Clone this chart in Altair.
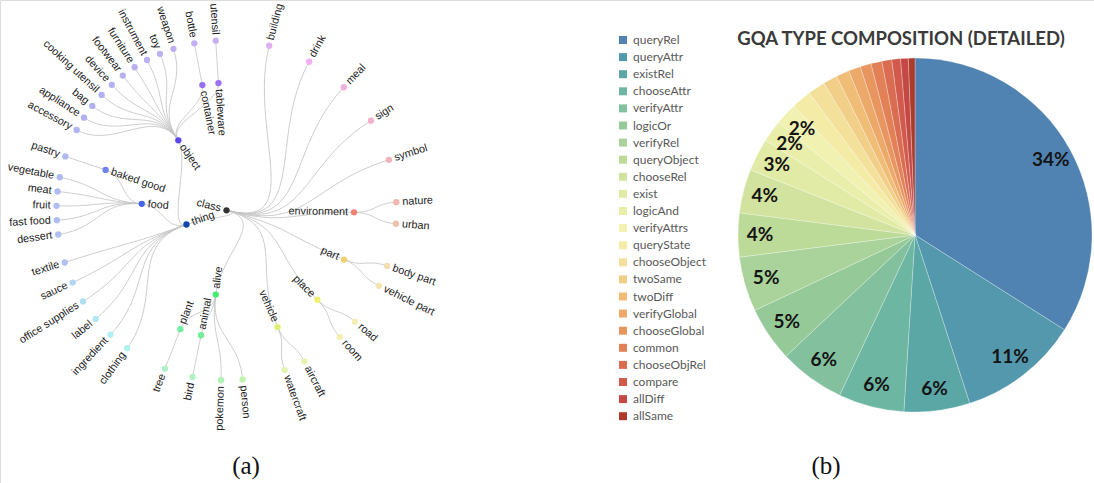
import math
import colorsys

import altair as alt
import pandas as pd

# ---------------------------------------------------------------
# (a) type taxonomy -- children of every node, listed clockwise
# ---------------------------------------------------------------
ROOT = "class"
CLASS_KIDS = ["building", "drink", "meal", "sign", "symbol", "environment",
              "part", "place", "vehicle", "alive", "thing"]
ENVIRONMENT_KIDS = ["nature", "urban"]
PART_KIDS = ["body part", "vehicle part"]
PLACE_KIDS = ["road", "room"]
VEHICLE_KIDS = ["aircraft", "watercraft"]
ALIVE_KIDS = ["person", "pokemon", "animal", "plant"]
ANIMAL_KIDS = ["bird"]
PLANT_KIDS = ["tree"]
THING_KIDS = ["clothing", "ingredient", "label", "office supplies", "sauce",
              "textile", "food", "object"]
FOOD_KIDS = ["dessert", "fast food", "fruit", "meat", "vegetable", "baked good"]
BAKED_GOOD_KIDS = ["pastry"]
OBJECT_KIDS = ["accessory", "appliance", "bag", "cooking utensil", "device",
               "footwear", "furniture", "instrument", "toy", "weapon",
               "container", "tableware"]
CONTAINER_KIDS = ["bottle"]
TABLEWARE_KIDS = ["utensil"]

# ---------------------------------------------------------------
# (b) GQA question-type composition, in percent
# ---------------------------------------------------------------
PIE_TYPES = ["queryRel", "queryAttr", "existRel", "chooseAttr", "verifyAttr",
             "logicOr", "verifyRel", "queryObject", "chooseRel", "exist",
             "logicAnd", "verifyAttrs", "queryState", "chooseObject", "twoSame",
             "twoDiff", "verifyGlobal", "chooseGlobal", "common", "chooseObjRel",
             "compare", "allDiff", "allSame"]
PIE_SHARE = [34, 11, 6, 6, 6, 5, 5, 4, 4, 3, 2, 2,
             1.8, 1.6, 1.3, 1.2, 1.1, 1.0, 1.0, 0.9, 0.8, 0.7, 0.6]
PIE_TITLE = "GQA TYPE COMPOSITION (DETAILED)"

# ---------------------------------------------------------------
# styling
# ---------------------------------------------------------------
W, H = 1094, 483
TREE_CX, TREE_CY, TREE_R = 226.5, 210.3, 170.0
PIE_CX, PIE_CY, PIE_R, PIE_LABEL_R = 915, 235, 177, 155

PIE_COLORS = ["#5083b2", "#5398ac", "#5aa7a6", "#6db6a2", "#82c09e",
              "#96c998", "#a9d39a", "#bddb98", "#d1e39e", "#e2eba6",
              "#eaeeab", "#f1f1b1", "#f4eba7", "#f3e09b", "#f2cf88",
              "#f0bd77", "#eca96a", "#e8955f", "#e28058", "#da6c51",
              "#d15a4c", "#c44944", "#ae3a2b"]

# angle (deg, clockwise from top) -> hue (deg) stops for the tree nodes
HUE_STOPS = [(0, 262), (14, 282), (28, 298), (43, 318), (57, 335), (73, 350),
             (91, 368), (112, 405), (135, 420), (157, 428), (187, 495),
             (205, 505), (216, 535), (245, 565), (252, 585), (274, 590),
             (290, 592), (325, 607), (360, 622)]
# (saturation, lightness) by node height above the leaves
TONE = {0: (0.72, 0.82), 1: (0.80, 0.69), 2: (0.80, 0.60), 3: (0.80, 0.38)}

KIDS = {
    ROOT: CLASS_KIDS, "environment": ENVIRONMENT_KIDS, "part": PART_KIDS,
    "place": PLACE_KIDS, "vehicle": VEHICLE_KIDS, "alive": ALIVE_KIDS,
    "animal": ANIMAL_KIDS, "plant": PLANT_KIDS, "thing": THING_KIDS,
    "food": FOOD_KIDS, "baked good": BAKED_GOOD_KIDS, "object": OBJECT_KIDS,
    "container": CONTAINER_KIDS, "tableware": TABLEWARE_KIDS,
}


def cluster_layout(root):
    """Radial dendrogram (leaves on the outer ring), d3.cluster style."""
    depth, parent, post = {}, {}, []

    def walk(n, d):
        depth[n] = d
        for c in KIDS.get(n, []):
            parent[c] = n
            walk(c, d + 1)
        post.append(n)

    walk(root, 0)

    def sep(a, b):
        return (1.0 if parent.get(a) == parent.get(b) else 2.0) / depth[a]

    pos, height, prev, acc = {}, {}, None, 0.0
    for n in post:
        ch = KIDS.get(n)
        if ch:
            pos[n] = sum(pos[c] for c in ch) / len(ch)
            height[n] = 1 + max(height[c] for c in ch)
        else:
            if prev is not None:
                acc += sep(n, prev)
            pos[n] = acc
            height[n] = 0
            prev = n
    leaves = [n for n in post if n not in KIDS]
    left, right = leaves[0], leaves[-1]
    x0 = pos[left] - sep(left, right) / 2
    x1 = pos[right] + sep(right, left) / 2
    top = height[root]
    angle = {n: (pos[n] - x0) / (x1 - x0) * 360.0 for n in post}
    radius = {n: (top - height[n]) / top * TREE_R for n in post}
    return post, parent, angle, radius, height


def polar(a, r):
    t = math.radians(a)
    return TREE_CX + r * math.sin(t), TREE_CY - r * math.cos(t)


def hue_at(a):
    for (a0, h0), (a1, h1) in zip(HUE_STOPS, HUE_STOPS[1:]):
        if a0 <= a <= a1:
            return (h0 + (h1 - h0) * (a - a0) / (a1 - a0)) % 360
    return HUE_STOPS[-1][1] % 360


def node_color(a, h):
    if h not in TONE:
        return "#333333"
    s, l = TONE[h]
    r, g, b = colorsys.hls_to_rgb(hue_at(a) / 360.0, l, s)
    return "#%02x%02x%02x" % (round(r * 255), round(g * 255), round(b * 255))


nodes, parent, angle, radius, height = cluster_layout(ROOT)

node_rows = []
for n in nodes:
    a, r = angle[n], radius[n]
    px, py = polar(a, r)
    leaf = n not in KIDS
    lower = a < 180
    outward = (lower == leaf)
    rot = (a - 90 + (0 if lower else 180)) % 360
    node_rows.append({"name": n, "px": px, "py": py, "rot": rot,
                      "side": "start" if outward else "end",
                      "fill": node_color(a, height[n])})
node_df = pd.DataFrame(node_rows)

# curved radial links (cubic Bezier, as in d3.linkRadial)
link_rows = []
STEPS = 24
for k, n in enumerate(nodes):
    if n not in parent:
        continue
    p = parent[n]
    sa, sr, ta, tr = angle[p], radius[p], angle[n], radius[n]
    mr = (sr + tr) / 2
    P = [polar(sa, sr), polar(sa, mr), polar(ta, mr), polar(ta, tr)]
    for i in range(STEPS + 1):
        t = i / STEPS
        u = 1 - t
        bx = u**3 * P[0][0] + 3 * u * u * t * P[1][0] + 3 * u * t * t * P[2][0] + t**3 * P[3][0]
        by = u**3 * P[0][1] + 3 * u * u * t * P[1][1] + 3 * u * t * t * P[2][1] + t**3 * P[3][1]
        link_rows.append({"link": k, "step": i, "px": bx, "py": by})
link_df = pd.DataFrame(link_rows)

pie_df = pd.DataFrame({
    "idx": list(range(len(PIE_TYPES))),
    "type": PIE_TYPES,
    "share": PIE_SHARE,
    "label": [f"{v:g}%" if v >= 2 else "" for v in PIE_SHARE],
})

xs = alt.Scale(domain=[0, W], nice=False, zero=False)
ys = alt.Scale(domain=[0, H], nice=False, zero=False, reverse=True)
X = alt.X("px:Q", scale=xs, axis=None)
Y = alt.Y("py:Q", scale=ys, axis=None)

links = alt.Chart(link_df).mark_line(
    stroke="#c4c4c4", strokeWidth=1, opacity=0.85
).encode(x=X, y=Y, detail="link:N", order="step:Q")

dots = alt.Chart(node_df).mark_circle(size=40, opacity=1).encode(
    x=X, y=Y, fill=alt.Fill("fill:N", scale=None)
)

label_style = dict(baseline="middle", font="Liberation Sans", fontSize=10.8,
                   color="#222222")
labels_out = alt.Chart(node_df).transform_filter(
    alt.datum.side == "start"
).mark_text(align="left", dx=6, **label_style).encode(
    x=X, y=Y, text="name:N", angle=alt.Angle("rot:Q", scale=None)
)
labels_in = alt.Chart(node_df).transform_filter(
    alt.datum.side == "end"
).mark_text(align="right", dx=-6, **label_style).encode(
    x=X, y=Y, text="name:N", angle=alt.Angle("rot:Q", scale=None)
)

arcs = alt.Chart(pie_df).mark_arc(
    radius=PIE_R, stroke="#ffffff", strokeWidth=0.6, strokeOpacity=0.45
).encode(
    x=alt.value(PIE_CX), y=alt.value(PIE_CY),
    theta=alt.Theta("share:Q", stack=True),
    order=alt.Order("idx:Q"),
    color=alt.Color(
        "type:N",
        scale=alt.Scale(domain=PIE_TYPES, range=PIE_COLORS),
        legend=alt.Legend(
            title=None, orient="none", legendX=617, legendY=34, padding=0,
            symbolType="square", symbolSize=64, symbolStrokeWidth=0,
            symbolOpacity=1, labelFont="Lato", labelFontSize=12,
            labelColor="#595959", labelOffset=4, rowPadding=5.1,
            symbolLimit=40,
        ),
    ),
)

pie_labels = alt.Chart(pie_df).mark_text(
    radius=PIE_LABEL_R, font="Lato", fontWeight="bold", fontSize=19,
    color="#141414", align="center", baseline="middle"
).encode(
    x=alt.value(PIE_CX), y=alt.value(PIE_CY),
    theta=alt.Theta("share:Q", stack=True),
    order=alt.Order("idx:Q"),
    text="label:N",
)

title = alt.Chart(pd.DataFrame({"t": [PIE_TITLE]})).mark_text(
    font="Lato", fontWeight="bold", fontSize=18.5, color="#3a3a3a",
    align="center", baseline="alphabetic"
).encode(text="t:N", x=alt.value(901), y=alt.value(45))

cap_style = dict(font="Liberation Serif", fontSize=25, color="#111111",
                 align="center", baseline="alphabetic")
cap_a = alt.Chart(pd.DataFrame({"t": ["(a)"]})).mark_text(**cap_style).encode(
    text="t:N", x=alt.value(246), y=alt.value(474))
cap_b = alt.Chart(pd.DataFrame({"t": ["(b)"]})).mark_text(**cap_style).encode(
    text="t:N", x=alt.value(826), y=alt.value(474))

chart = alt.layer(
    links, dots, labels_out, labels_in, arcs, pie_labels, title, cap_a, cap_b
).properties(
    width=W, height=H, padding=0,
    autosize=alt.AutoSizeParams(type="none"),
).configure_view(stroke=None).configure(background="#ffffff")

chart.save("out.html", embed_options={"renderer": "svg", "actions": False})
